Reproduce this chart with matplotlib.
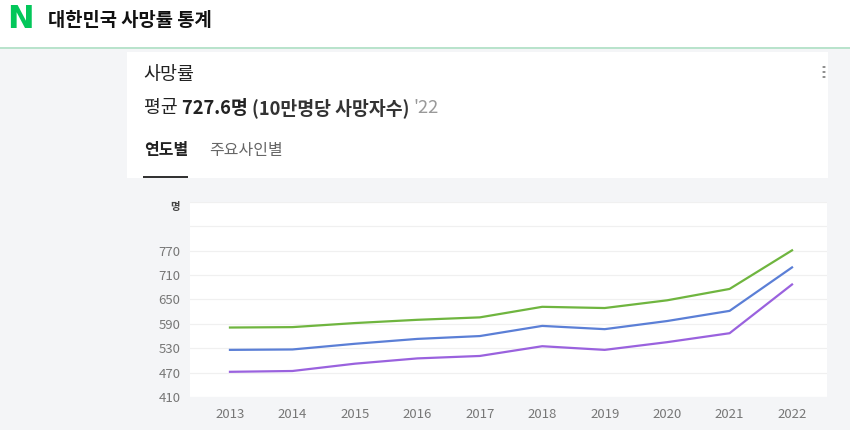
import matplotlib
matplotlib.use('Agg')
import matplotlib.pyplot as plt
from matplotlib.patches import Rectangle, Circle

plt.rcParams['font.family'] = ['Noto Sans CJK KR', 'DejaVu Sans']

years = ['2013', '2014', '2015', '2016', '2017', '2018', '2019', '2020', '2021', '2022']
male = [581, 582, 592, 600, 606, 632, 629, 648, 676, 771]
total = [526, 527, 541, 553, 560, 585, 577, 597, 622, 729]
female = [472, 474, 492, 505, 511, 535, 526, 545, 567, 687]

y_ticks = [410, 470, 530, 590, 650, 710, 770, 830, 890]
y_labels = ['410', '470', '530', '590', '650', '710', '770', '', '']

W, H = 850, 430
fig = plt.figure(figsize=(8.5, 4.3), dpi=100)
fig.patch.set_facecolor('#f4f5f7')
renderer = fig.canvas.get_renderer()


def fx(x):
    return x / W


def fy(y):
    return 1 - y / H


def box(x0, y0, x1, y1, color):
    fig.patches.append(Rectangle((fx(x0), fy(y1)), fx(x1 - x0), (y1 - y0) / H,
                                 transform=fig.transFigure, facecolor=color,
                                 edgecolor='none', zorder=0))


# header
box(0, 0, W, 47, 'white')
box(0, 47, W, 49, '#b9e3cc')
fig.text(fx(7), fy(20), 'N', color='#03c75a', fontsize=23, fontweight='black',
         family='DejaVu Sans', va='center', ha='left')
fig.text(fx(48), fy(20), '대한민국 사망률 통계', fontsize=13.5, fontweight='bold',
         color='#111111', va='center', ha='left')

# card
box(127, 52, 828, 178, 'white')
fig.text(fx(143), fy(75), '사망률', fontsize=13.3, fontweight='medium',
         color='#222222', va='center', ha='left')

parts = [('평균 ', 'regular', '#222222'),
         ('727.6명 ', 'bold', '#222222'),
         ('(10만명당 사망자수) ', 'semibold', '#333333'),
         ("'22", 'regular', '#999999')]
px = 144
for s, w, c in parts:
    t = fig.text(fx(px), fy(108), s, fontsize=13.2, fontweight=w, color=c,
                 va='center', ha='left')
    px += t.get_window_extent(renderer).width

fig.text(fx(144), fy(150), '연도별', fontsize=11.5, fontweight='bold',
         color='#222222', va='center', ha='left')
fig.text(fx(209), fy(150), '주요사인별', fontsize=11.5, color='#666666', va='center', ha='left')
box(143, 176, 188, 178, '#333333')
for dy in (67, 72, 77):
    fig.patches.append(Circle((fx(824), fy(dy)), 1.7 / W, transform=fig.transFigure,
                              facecolor='#777777', edgecolor='none'))

# chart
ax = fig.add_axes([fx(190), fy(397), fx(827 - 190), (397 - 202) / H])
ax.set_facecolor('white')
x = range(len(years))
ax.plot(x, male, color='#6fb53f', lw=1.6)
ax.plot(x, total, color='#5b7fd6', lw=1.6)
ax.plot(x, female, color='#9a62de', lw=1.6)

ax.set_xlim(-0.64, 9.56)
ax.set_ylim(410, 890)
ax.set_xticks(list(x))
ax.set_xticklabels(years)
ax.set_yticks(y_ticks)
ax.set_yticklabels(y_labels)
ax.grid(axis='y', color='#f0f0f0', lw=0.9)
ax.set_axisbelow(True)
for s in ax.spines.values():
    s.set_visible(False)
ax.tick_params(length=0, colors='#777777', labelsize=9.5)
ax.tick_params(axis='y', pad=7)
ax.tick_params(axis='x', pad=8)
fig.text(fx(175), fy(207), '명', fontsize=7.5, fontweight='bold', color='#444444',
         ha='center', va='center')

fig.savefig('out.png', dpi=100, facecolor=fig.get_facecolor())
